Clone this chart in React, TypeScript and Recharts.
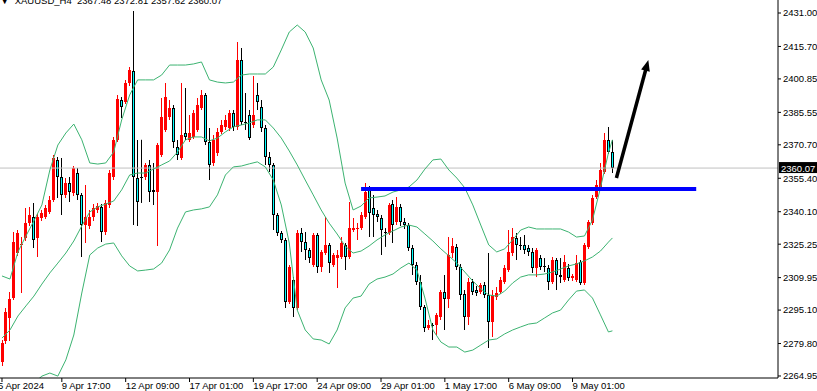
import React from 'react';
import { ComposedChart, Bar, Line, XAxis, YAxis, ReferenceLine } from 'recharts';

// XAUUSD H4 candles, oldest first
const opens = [
  2271.4, 2281.0, 2291.5, 2300.6, 2321.2, 2324.9, 2328.1, 2334.9, 2337.7, 2328.1,
  2337.2, 2337.7, 2340.0, 2345.5, 2363.8, 2356.0, 2347.8, 2353.2, 2348.7, 2357.8,
  2347.8, 2334.0, 2333.6, 2337.7, 2340.9, 2342.3, 2330.8, 2343.2, 2356.0, 2373.0,
  2391.2, 2390.3, 2399.0, 2404.5, 2355.5, 2356.0, 2356.0, 2361.5, 2350.1, 2349.1,
  2366.1, 2377.5, 2383.4, 2387.5, 2369.7, 2364.7, 2376.1, 2373.0, 2374.3, 2377.5,
  2387.5, 2393.5, 2372.0, 2362.4, 2367.0, 2376.6, 2378.9, 2378.4, 2385.3, 2378.9,
  2409.5, 2381.1, 2384.3, 2379.8, 2393.5, 2388.0, 2378.4, 2365.1, 2361.5, 2338.6,
  2330.4, 2327.2, 2298.8, 2308.9, 2296.1, 2330.4, 2326.2, 2322.6, 2315.7, 2329.5,
  2314.8, 2321.2, 2324.9, 2315.7, 2318.9, 2319.4, 2324.9, 2319.4, 2331.7, 2332.2,
  2332.6, 2337.7, 2350.1, 2341.8, 2339.1, 2337.2, 2330.8, 2330.4, 2343.6, 2335.4,
  2342.3, 2335.4, 2334.0, 2323.5, 2315.7, 2308.0, 2296.5, 2286.9, 2288.3, 2288.3,
  2291.9, 2303.4, 2300.2, 2321.2, 2324.0, 2314.8, 2302.5, 2291.9, 2308.0, 2304.3,
  2303.4, 2306.6, 2302.0, 2289.7, 2301.1, 2303.4, 2308.0, 2313.4, 2321.2, 2328.1,
  2324.9, 2324.9, 2323.5, 2321.7, 2314.4, 2318.9, 2315.3, 2314.4, 2308.0, 2318.0,
  2311.2, 2308.9, 2314.4, 2309.8, 2308.9, 2317.1, 2307.5, 2324.0, 2334.9, 2346.8,
  2351.0, 2358.3, 2373.0, 2367.48,
];
const highs = [
  2281.4, 2296.1, 2303.4, 2330.8, 2331.7, 2328.5, 2341.8, 2342.3, 2344.1, 2339.1,
  2340.9, 2343.2, 2347.3, 2366.1, 2365.1, 2364.7, 2355.5, 2356.0, 2361.0, 2360.1,
  2348.7, 2352.3, 2340.9, 2343.6, 2344.1, 2343.6, 2345.5, 2359.2, 2374.3, 2393.5,
  2392.6, 2400.4, 2406.3, 2431.9, 2373.0, 2373.0, 2362.4, 2363.8, 2362.4, 2371.5,
  2392.1, 2399.0, 2391.2, 2388.9, 2373.0, 2399.0, 2396.7, 2384.3, 2386.6, 2392.1,
  2395.8, 2394.4, 2378.4, 2375.2, 2378.4, 2382.1, 2384.3, 2386.6, 2386.6, 2417.7,
  2415.0, 2394.4, 2386.6, 2402.2, 2399.0, 2391.2, 2379.8, 2367.4, 2362.4, 2339.5,
  2331.3, 2328.1, 2315.7, 2310.2, 2331.7, 2332.6, 2330.8, 2323.5, 2330.4, 2330.4,
  2322.6, 2337.7, 2325.8, 2321.2, 2322.6, 2328.5, 2325.8, 2344.6, 2337.2, 2334.9,
  2340.0, 2353.2, 2351.9, 2347.8, 2340.9, 2338.6, 2332.6, 2344.1, 2345.5, 2346.8,
  2343.6, 2337.2, 2334.9, 2324.9, 2317.1, 2311.2, 2297.4, 2290.6, 2289.2, 2293.8,
  2304.3, 2311.2, 2328.5, 2328.1, 2325.3, 2316.2, 2304.3, 2309.8, 2309.3, 2306.1,
  2307.5, 2308.0, 2321.2, 2304.3, 2305.7, 2310.2, 2315.7, 2331.7, 2332.6, 2330.4,
  2328.5, 2329.5, 2324.9, 2323.5, 2323.5, 2320.3, 2318.9, 2315.7, 2319.4, 2318.9,
  2318.9, 2320.3, 2316.2, 2311.6, 2320.3, 2318.0, 2325.8, 2336.3, 2347.8, 2354.6,
  2362.4, 2376.1, 2378.9, 2372.81,
];
const lows = [
  2269.5, 2279.6, 2281.0, 2299.7, 2319.9, 2302.9, 2326.7, 2333.6, 2323.5, 2319.4,
  2335.9, 2336.8, 2339.1, 2344.6, 2346.4, 2338.6, 2346.4, 2344.6, 2347.3, 2345.5,
  2319.4, 2325.8, 2332.2, 2335.9, 2339.5, 2326.2, 2329.5, 2341.8, 2354.6, 2372.0,
  2383.0, 2389.4, 2397.6, 2334.0, 2333.6, 2344.1, 2354.6, 2344.6, 2343.2, 2324.4,
  2365.1, 2376.6, 2382.1, 2369.3, 2363.8, 2363.8, 2373.0, 2372.0, 2373.4, 2376.6,
  2386.6, 2370.6, 2354.6, 2361.0, 2365.6, 2375.7, 2377.5, 2377.0, 2377.0, 2377.5,
  2379.8, 2377.5, 2373.0, 2378.4, 2386.6, 2376.6, 2361.5, 2358.3, 2331.7, 2329.0,
  2325.8, 2296.1, 2297.9, 2291.9, 2295.1, 2321.7, 2318.0, 2316.6, 2314.8, 2312.1,
  2312.5, 2320.3, 2312.1, 2314.8, 2305.2, 2318.5, 2313.4, 2318.5, 2330.8, 2327.2,
  2331.7, 2336.8, 2328.5, 2328.5, 2335.4, 2320.3, 2324.0, 2329.5, 2325.8, 2334.0,
  2333.6, 2332.2, 2322.1, 2311.2, 2306.6, 2295.1, 2285.1, 2286.0, 2281.4, 2283.7,
  2290.6, 2286.0, 2296.1, 2318.9, 2313.4, 2299.7, 2286.0, 2288.3, 2302.0, 2301.5,
  2302.5, 2300.6, 2277.8, 2282.8, 2299.7, 2302.5, 2307.0, 2312.5, 2319.9, 2318.0,
  2322.6, 2320.8, 2319.9, 2312.1, 2310.2, 2313.4, 2312.5, 2304.3, 2307.0, 2304.3,
  2307.5, 2307.9, 2308.4, 2308.4, 2308.0, 2306.6, 2306.6, 2323.1, 2334.0, 2345.9,
  2350.1, 2357.4, 2366.5, 2357.62,
];
const closes = [
  2280.0, 2294.2, 2300.2, 2326.2, 2330.4, 2325.3, 2334.9, 2338.6, 2327.2, 2337.7,
  2339.5, 2341.8, 2345.5, 2364.7, 2356.0, 2347.8, 2353.2, 2349.1, 2360.1, 2347.8,
  2334.0, 2337.7, 2337.7, 2341.8, 2342.7, 2330.8, 2344.1, 2357.8, 2373.0, 2391.7,
  2388.0, 2399.0, 2404.9, 2356.0, 2344.6, 2355.8, 2361.5, 2349.1, 2349.1, 2370.6,
  2383.4, 2392.6, 2387.5, 2372.0, 2366.1, 2375.2, 2374.3, 2376.1, 2385.3, 2388.9,
  2393.5, 2372.0, 2361.5, 2373.0, 2376.6, 2379.8, 2382.1, 2385.3, 2378.9, 2409.5,
  2381.1, 2381.3, 2373.8, 2384.3, 2390.3, 2378.4, 2365.1, 2361.5, 2338.6, 2330.4,
  2327.2, 2298.8, 2314.8, 2296.1, 2330.4, 2326.2, 2322.6, 2318.9, 2329.5, 2314.8,
  2321.7, 2324.9, 2316.6, 2320.3, 2320.3, 2325.8, 2319.4, 2332.6, 2332.6, 2332.6,
  2338.6, 2349.1, 2339.5, 2338.6, 2337.7, 2331.7, 2330.6, 2343.2, 2334.0, 2342.3,
  2335.4, 2334.0, 2323.5, 2315.7, 2308.0, 2296.5, 2286.9, 2288.3, 2288.1, 2292.9,
  2303.4, 2300.2, 2320.3, 2324.4, 2314.8, 2302.0, 2291.9, 2308.0, 2303.4, 2302.9,
  2306.6, 2302.0, 2289.7, 2302.0, 2302.9, 2308.9, 2314.4, 2321.7, 2328.5, 2324.9,
  2324.4, 2322.6, 2321.7, 2314.4, 2322.6, 2314.8, 2315.2, 2308.0, 2318.0, 2311.2,
  2310.2, 2317.1, 2309.8, 2310.7, 2316.6, 2307.5, 2324.9, 2335.4, 2346.4, 2352.3,
  2359.2, 2373.0, 2367.4, 2360.07,
];

// Bollinger bands, read every 2nd bar (bars 0,2,...,152) + the last bar
const upperBand = [
  2310.7, 2309.3, 2321.7, 2329.0, 2335.9, 2343.2, 2359.2, 2370.6, 2376.1, 2380.2,
  2373.0, 2362.4, 2361.9, 2362.4, 2367.4, 2382.1, 2393.5, 2400.4, 2400.4, 2400.4,
  2402.6, 2407.2, 2407.2, 2407.2, 2407.7, 2408.6, 2400.4, 2399.4, 2399.0, 2399.4,
  2402.6, 2403.1, 2403.1, 2403.1, 2406.3, 2414.1, 2422.3, 2425.5, 2422.3, 2415.0,
  2400.4, 2391.2, 2373.8, 2353.2, 2340.9, 2342.7, 2346.4, 2346.8, 2347.3, 2349.1,
  2350.1, 2351.4, 2354.6, 2359.6, 2363.8, 2364.2, 2359.2, 2355.5, 2351.0, 2343.2,
  2334.0, 2324.9, 2321.7, 2323.1, 2327.2, 2331.7, 2333.1, 2332.2, 2332.2, 2332.2,
  2332.2, 2330.8, 2328.5, 2329.0, 2336.3, 2351.0, 2367.0, 2373.0,
];
const middleBand = [
  2282.3, 2286.0, 2292.4, 2297.0, 2301.5, 2307.0, 2312.1, 2316.6, 2321.2, 2326.7,
  2333.6, 2340.0, 2342.3, 2343.6, 2345.0, 2350.1, 2356.9, 2357.8, 2357.8, 2359.6,
  2361.5, 2363.3, 2367.4, 2373.0, 2374.3, 2374.3, 2372.5, 2373.8, 2376.6, 2378.9,
  2379.8, 2380.7, 2382.1, 2382.1, 2378.4, 2373.8, 2367.9, 2361.5, 2354.6, 2347.8,
  2340.9, 2334.9, 2329.9, 2324.4, 2321.2, 2322.1, 2324.4, 2327.2, 2329.5, 2331.3,
  2333.1, 2334.0, 2333.1, 2329.9, 2326.7, 2323.1, 2319.9, 2316.6, 2312.5, 2308.4,
  2304.8, 2302.0, 2301.5, 2303.8, 2307.5, 2310.2, 2311.2, 2311.2, 2311.6, 2312.5,
  2313.9, 2315.3, 2316.2, 2317.6, 2319.4, 2322.1, 2326.2, 2328.1,
];
const lowerBand = [
  2244.8, 2249.4, 2254.0, 2257.6, 2261.7, 2264.9, 2266.3, 2264.9, 2272.3, 2283.7,
  2302.9, 2320.3, 2323.5, 2325.3, 2325.8, 2319.9, 2315.3, 2313.0, 2313.4, 2313.9,
  2316.6, 2322.6, 2332.6, 2340.0, 2340.9, 2341.4, 2342.3, 2347.8, 2356.9, 2360.6,
  2361.0, 2362.0, 2362.9, 2360.6, 2354.6, 2343.2, 2325.8, 2295.1, 2286.0, 2281.9,
  2281.4, 2279.6, 2286.0, 2296.1, 2300.6, 2301.5, 2307.0, 2309.3, 2310.2, 2311.6,
  2314.4, 2316.6, 2313.4, 2300.6, 2286.0, 2280.5, 2278.2, 2278.2, 2275.9, 2276.8,
  2279.1, 2281.4, 2281.9, 2284.2, 2286.0, 2287.4, 2288.7, 2289.2, 2291.5, 2293.8,
  2295.1, 2299.7, 2303.8, 2304.3, 2300.6, 2292.9, 2285.1, 2285.6,
];

const priceTicks = [
  2264.95, 2279.8, 2295.1, 2309.95, 2325.25, 2340.1, 2355.4, 2370.7, 2385.55, 2400.85, 2415.7, 2431.0,
];
const timeTickBars = [0, 15, 31, 47, 63, 79, 95, 111, 127, 143];
const timeTickLabels = [
  '5 Apr 2024', '9 Apr 17:00', '12 Apr 09:00', '17 Apr 01:00', '19 Apr 17:00',
  '24 Apr 09:00', '29 Apr 01:00', '1 May 17:00', '6 May 09:00', '9 May 01:00',
];

// drawn annotations: support level and projected move
const supportLevel = 2350.5;
const supportFromBar = 90;
const supportToBar = 174;
const arrowFrom = { bar: 154, price: 2355.5 };
const arrowTo = { bar: 162, price: 2409.5 };

const SLOTS = 195; // bars + empty space on the right
const FONT = '"Liberation Sans", Arial, sans-serif';

const rows = Array.from({ length: SLOTS }, (_, i) => {
  const has = i < closes.length;
  const last = closes.length - 1;
  const b = i % 2 === 0 && i / 2 < 77 ? i / 2 : i === last ? 77 : -1;
  return {
    i,
    o: has ? opens[i] : null,
    h: has ? highs[i] : null,
    l: has ? lows[i] : null,
    c: has ? closes[i] : null,
    range: has ? [lows[i], highs[i]] : null,
    up: b >= 0 ? upperBand[b] : null,
    mid: b >= 0 ? middleBand[b] : null,
    lo: b >= 0 ? lowerBand[b] : null,
  };
});

const Candle = (props: any) => {
  const { x, y, width, height, payload } = props;
  if (!payload || payload.o == null || !height) return null;
  const { o, h, l, c } = payload;
  const k = height / (h - l);
  const py = (v: number) => y + (h - v) * k;
  const col = Math.floor(x + width / 2);
  const left = col - 1;
  const wx = col + 0.5;
  const top = Math.round(py(Math.max(o, c)));
  const bot = Math.round(py(Math.min(o, c)));
  if (Math.abs(c - o) < 0.3) {
    return (
      <g>
        <line x1={wx} x2={wx} y1={py(h)} y2={py(l)} stroke="#000" strokeWidth={1} />
        <line x1={left} x2={left + 3} y1={top + 0.5} y2={top + 0.5} stroke="#000" strokeWidth={1} />
      </g>
    );
  }
  if (c > o) {
    return (
      <g shapeRendering="crispEdges">
        <line x1={wx} x2={wx} y1={py(h)} y2={py(l)} stroke="#ff0000" strokeWidth={1} />
        <rect x={left} y={top} width={3} height={Math.max(1, bot - top)} fill="#ff0000" />
      </g>
    );
  }
  return (
    <g shapeRendering="crispEdges">
      <line x1={wx} x2={wx} y1={py(h)} y2={py(l)} stroke="#000" strokeWidth={1} />
      {bot - top >= 2 ? (
        <rect x={left + 0.5} y={top + 0.5} width={2} height={bot - top - 1} fill="#00ffff" stroke="#000" strokeWidth={1} />
      ) : (
        <rect x={left} y={top} width={3} height={Math.max(1, bot - top)} fill="#000" />
      )}
    </g>
  );
};

const TimeTick = (props: any) => {
  const { x, payload } = props;
  const idx = timeTickBars.indexOf(payload.value);
  if (idx < 0) return null;
  const tx = idx === 0 ? x - 4 : x;
  return (
    <g>
      <line x1={x} x2={x} y1={378} y2={382} stroke="#000" />
      <text x={tx} y={389} fontSize={9.5} fontFamily={FONT} fill="#000" textAnchor="start">
        {timeTickLabels[idx]}
      </text>
    </g>
  );
};

const PriceTag = (props: any) => {
  const vb = props.viewBox || {};
  const right = (vb.x ?? 0) + (vb.width ?? 778);
  const yy = vb.y ?? 168;
  return (
    <g>
      <rect x={right + 1} y={yy - 6} width={40} height={11} fill="#000" />
      <text x={right + 3} y={yy + 3.5} fontSize={9.5} fontFamily={FONT} fill="#fff">
        {closes[closes.length - 1].toFixed(2)}
      </text>
    </g>
  );
};

const Arrow = (props: any) => {
  const { x1, y1, x2, y2 } = props;
  if ([x1, y1, x2, y2].some((v) => v == null || Number.isNaN(v))) return null;
  const a = Math.atan2(y2 - y1, x2 - x1);
  const L = 11;
  const W = 4.5;
  const bx = x2 - L * Math.cos(a);
  const by = y2 - L * Math.sin(a);
  const nx = -Math.sin(a);
  const ny = Math.cos(a);
  return (
    <g>
      <line x1={x1} y1={y1} x2={x2 - (L - 2) * Math.cos(a)} y2={y2 - (L - 2) * Math.sin(a)} stroke="#000" strokeWidth={3.5} />
      <polygon
        points={`${x2},${y2} ${bx + W * nx},${by + W * ny} ${bx - W * nx},${by - W * ny}`}
        fill="#000"
      />
    </g>
  );
};

export default function App() {
  const last = closes[closes.length - 1];
  return (
    <div style={{ position: 'absolute', left: 0, top: 0, width: 817, height: 391, overflow: 'hidden', background: '#fff' }}>
      <ComposedChart
        width={817}
        height={391}
        data={rows}
        margin={{ top: 0, right: 0, bottom: 0, left: 0 }}
        barCategoryGap={0}
        barGap={0}
      >
        <XAxis
          dataKey="i"
          height={13}
          interval={0}
          ticks={timeTickBars}
          tick={<TimeTick />}
          tickLine={false}
          tickSize={0}
          axisLine={{ stroke: '#000' }}
        />
        <YAxis
          orientation="right"
          width={39}
          type="number"
          domain={[2264.03, 2436.95]}
          allowDataOverflow
          ticks={priceTicks}
          interval={0}
          tickFormatter={(v: number) => v.toFixed(2)}
          tick={{ fontSize: 9.5, fill: '#000', fontFamily: FONT }}
          tickLine={{ stroke: '#000' }}
          tickSize={3}
          tickMargin={2}
          axisLine={{ stroke: '#000' }}
        />
        <ReferenceLine y={last} stroke="#c0c0c0" strokeWidth={1} label={<PriceTag />} />
        <Bar dataKey="range" shape={<Candle />} isAnimationActive={false} />
        <Line dataKey="up" stroke="#3cb371" strokeWidth={1} dot={false} connectNulls isAnimationActive={false} />
        <Line dataKey="mid" stroke="#3cb371" strokeWidth={1} dot={false} connectNulls isAnimationActive={false} />
        <Line dataKey="lo" stroke="#3cb371" strokeWidth={1} dot={false} connectNulls isAnimationActive={false} />
        <ReferenceLine
          segment={[
            { x: supportFromBar, y: supportLevel },
            { x: supportToBar, y: supportLevel },
          ]}
          stroke="#0000ff"
          strokeWidth={4}
        />
        <ReferenceLine
          segment={[
            { x: arrowFrom.bar, y: arrowFrom.price },
            { x: arrowTo.bar, y: arrowTo.price },
          ]}
          shape={(p: any) => <Arrow {...p} />}
        />
      </ComposedChart>
      <svg width={817} height={12} style={{ position: 'absolute', left: 0, top: 0 }}>
        <text x={0} y={3.5} fontSize={9.5} fontFamily={FONT} fill="#000" style={{ whiteSpace: 'pre' }}>
          {'\u25BC  XAUUSD_H4  2367.48 2372.81 2357.62 2360.07'}
        </text>
      </svg>
    </div>
  );
}
